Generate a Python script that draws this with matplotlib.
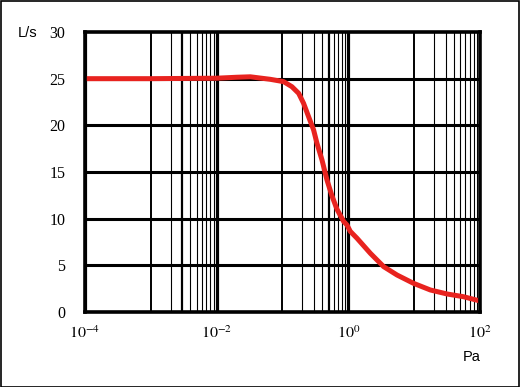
import numpy as np
import matplotlib.pyplot as plt

# pressure (Pa) vs pumping speed (L/s)
pressure = [1e-4, 1e-3, 1e-2, 0.02, 0.0324, 0.0653, 0.104, 0.139, 0.176, 0.209, 0.249,
            0.297, 0.334, 0.398, 0.474, 0.565, 0.673, 0.849, 0.955, 1.07, 1.355, 2.16,
            3.44, 5.5, 9.8, 17.6, 31.6, 56, 100]
speed = [25.0, 25.0, 25.05, 25.15, 25.2, 24.93, 24.68, 24.14, 23.43, 22.36, 20.93,
         19.5, 18.07, 16.29, 14.14, 12.43, 11.0, 9.7, 9.32, 8.64, 7.9, 6.29,
         4.86, 3.96, 3.07, 2.36, 1.93, 1.64, 1.18]

y_ticks = [0, 5, 10, 15, 20, 25, 30]
x_ticks = [1e-4, 1e-2, 1e0, 1e2]
x_labels = ['$10^{-4}$', '$10^{-2}$', '$10^{0}$', '$10^{2}$']
minor_decades = [-3, -1, 1]  # decades that carry the 2..9 grid lines

plt.rcParams['mathtext.fontset'] = 'stix'

fig = plt.figure(figsize=(5.2, 3.87), dpi=100)
ax = fig.add_axes([85 / 520, 75 / 387, 395 / 520, 280 / 387])

# vertical grid
for p in range(-4, 3):
    lw = 2.3 if p % 2 == 0 else 1.4
    ax.axvline(10.0 ** p, color='black', lw=lw, zorder=1)
for d in minor_decades:
    for m in range(2, 10):
        lw = 1.6 if (d, m) in [(-3, 3), (-1, 5)] else 0.8
        ax.axvline(m * 10.0 ** d, color='black', lw=lw, zorder=1)

# horizontal grid
for v in y_ticks[1:-1]:
    ax.axhline(v, color='black', lw=2.2, zorder=1)

ax.plot(pressure, speed, color='#e8231f', lw=3.6, solid_capstyle='butt',
        solid_joinstyle='round', zorder=3)

ax.set_xscale('log')
ax.set_xlim(1e-4, 1e2)
ax.set_ylim(0, 30)
ax.set_xticks(x_ticks)
ax.set_xticklabels(x_labels)
ax.minorticks_off()
ax.set_yticks(y_ticks)
ax.set_yticklabels([str(v) for v in y_ticks], family='Liberation Serif')
ax.tick_params(length=0, labelsize=11.5)
ax.tick_params(axis='y', pad=14)
ax.tick_params(axis='x', pad=9)
for s in ax.spines.values():
    s.set_linewidth(2.6)
    s.set_zorder(4)

fig.text(28 / 520, 1 - 33 / 387, 'L/s', ha='center', va='center',
         fontsize=10.5, family='Liberation Sans')
fig.text(472 / 520, 1 - 357 / 387, 'Pa', ha='center', va='center',
         fontsize=10.5, family='Liberation Sans')

fig.patches.append(plt.Rectangle((0.001, 0.001), 0.997, 0.997, transform=fig.transFigure,
                                 fill=False, edgecolor='black', lw=1.2))

fig.savefig('out.png', dpi=100)
